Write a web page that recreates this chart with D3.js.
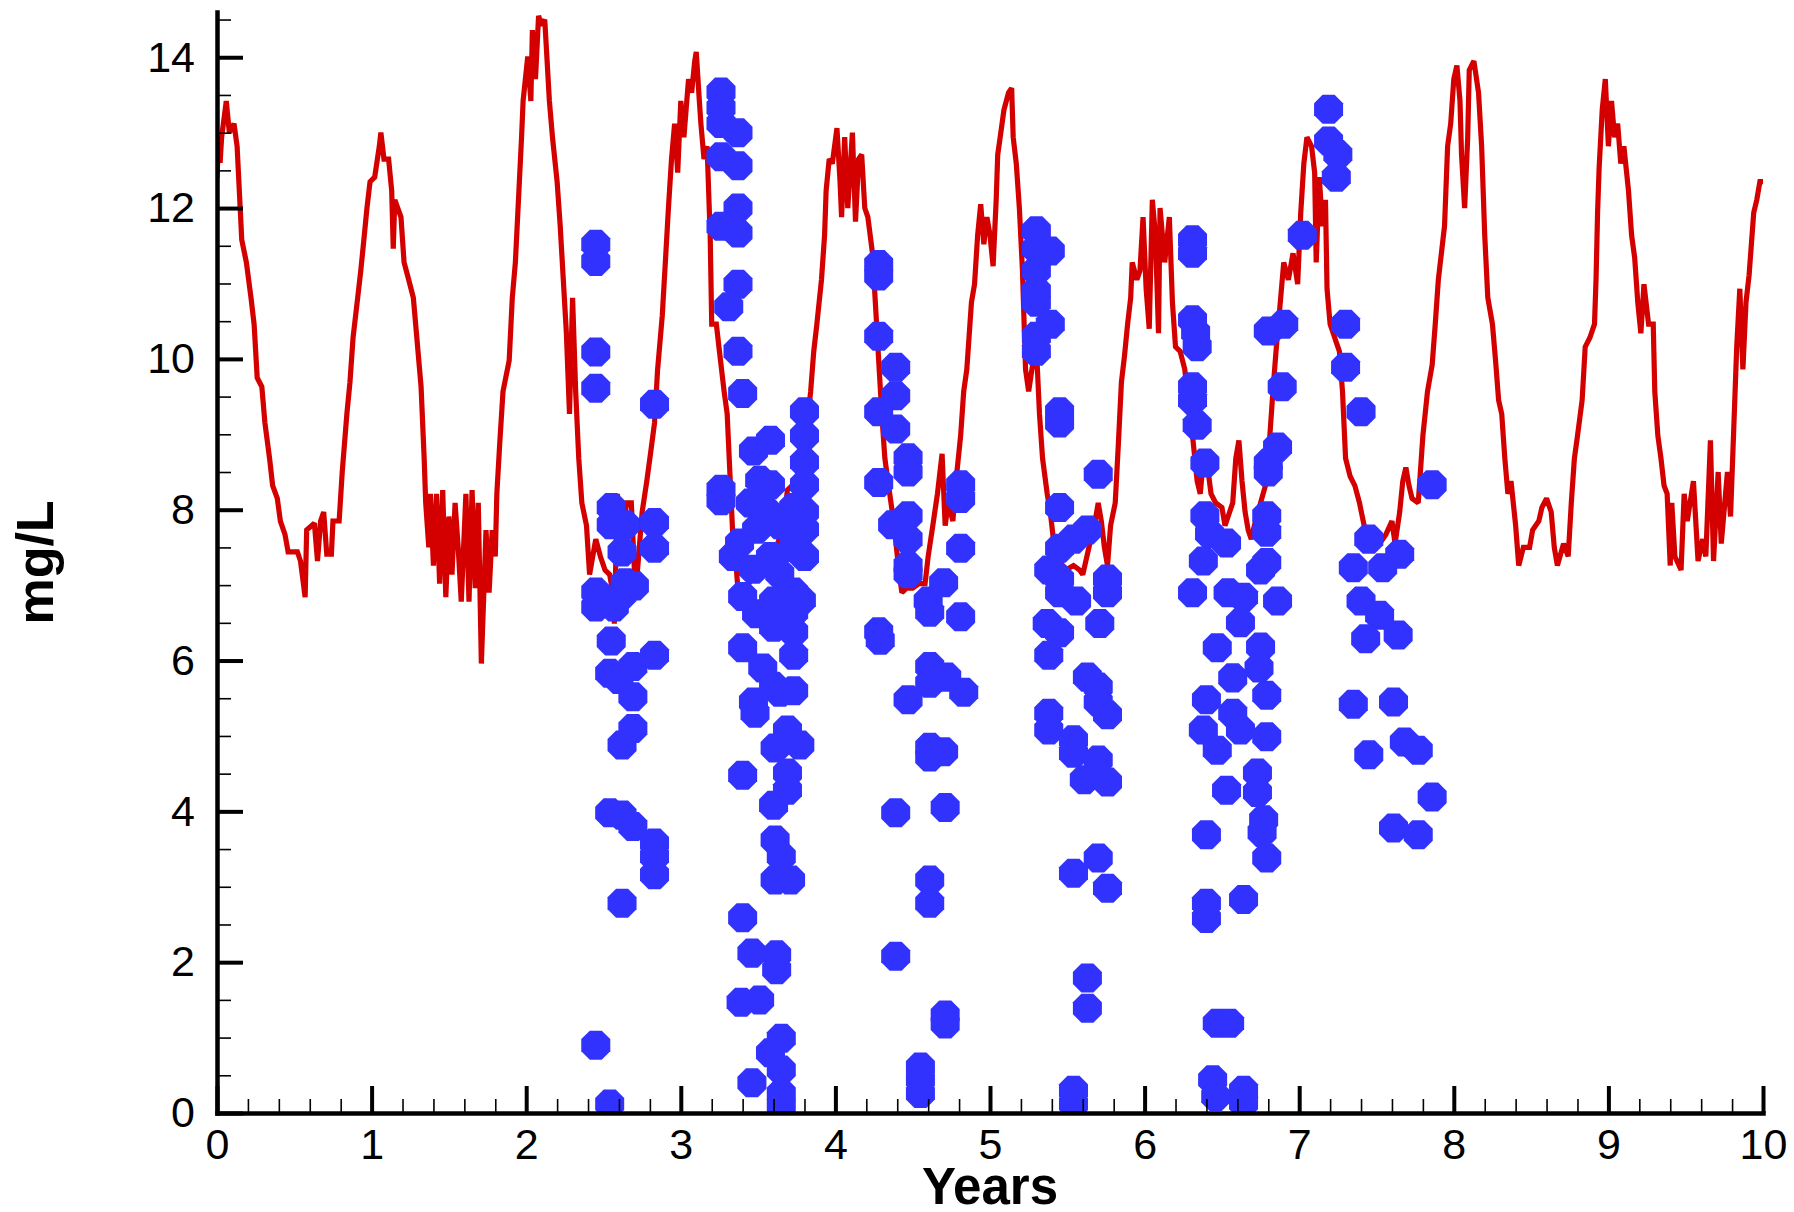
<!DOCTYPE html>
<html><head><meta charset="utf-8">
<script src="https://cdn.jsdelivr.net/npm/d3@7"></script>
<style>body{margin:0;background:#fff} svg{display:block}</style>
</head><body>
<svg id="chart" width="1794" height="1212"></svg>
<script>
// ---- data ----
const lineYears = [0.00,0.01,0.02,0.03,0.06,0.08,0.11,0.13,0.15,0.16,0.19,0.22,0.24,0.26,0.29,0.31,0.34,0.36,0.39,0.41,0.44,0.46,0.52,0.54,0.57,0.58,0.63,0.65,0.67,0.69,0.71,0.74,0.75,0.79,0.81,0.84,0.86,0.88,0.91,0.93,0.95,0.97,0.99,1.02,1.05,1.06,1.08,1.11,1.13,1.14,1.15,1.19,1.21,1.24,1.27,1.29,1.32,1.34,1.35,1.37,1.38,1.40,1.42,1.44,1.46,1.48,1.50,1.52,1.54,1.56,1.58,1.61,1.63,1.65,1.67,1.69,1.71,1.74,1.76,1.78,1.80,1.81,1.83,1.85,1.89,1.91,1.93,1.95,1.97,1.98,2.01,2.03,2.04,2.06,2.08,2.10,2.12,
2.15,2.17,2.20,2.22,2.24,2.26,2.28,2.30,2.32,2.34,2.36,2.39,2.41,2.45,2.48,2.51,2.54,2.56,2.57,2.59,2.61,2.65,2.68,2.70,2.72,2.75,2.78,2.80,2.83,2.85,2.88,2.90,2.92,2.94,2.96,2.98,3.00,3.02,3.05,3.07,3.09,3.10,3.12,3.13,3.15,3.17,3.19,3.20,3.23,3.25,3.28,3.30,3.32,3.34,3.36,3.38,3.40,3.44,3.49,3.53,3.58,3.62,3.66,3.69,3.75,3.81,3.84,3.86,3.88,3.91,3.93,3.94,3.96,3.98,4.01,4.03,4.04,4.06,4.08,4.11,4.13,4.15,4.17,4.19,4.21,4.24,4.26,4.28,
4.30,4.32,4.34,4.38,4.41,4.43,4.46,4.50,4.54,4.58,4.60,4.63,4.66,4.69,4.71,4.73,4.76,4.78,4.81,4.83,4.85,4.88,4.90,4.92,4.94,4.96,4.98,5.00,5.02,5.04,5.05,5.07,5.09,5.12,5.14,5.15,5.17,5.19,5.21,5.23,5.25,5.28,5.30,5.32,5.34,5.37,5.39,5.41,5.45,5.49,5.54,5.58,5.60,5.64,5.68,5.70,5.72,5.74,5.76,5.78,5.81,5.83,5.85,5.87,5.89,5.91,5.92,5.95,5.97,5.99,6.01,6.03,6.05,6.07,6.09,6.10,6.13,6.16,6.18,6.20,6.23,6.26,
6.29,6.31,6.34,6.36,6.38,6.40,6.43,6.46,6.50,6.52,6.55,6.57,6.59,6.61,6.63,6.65,6.67,6.69,6.71,6.75,6.79,6.81,6.83,6.85,6.87,6.90,6.93,6.96,6.99,7.01,7.03,7.05,7.08,7.10,7.11,7.13,7.15,7.17,7.18,7.20,7.22,7.24,7.26,7.28,7.30,7.33,7.36,7.39,7.42,7.46,7.52,7.56,7.60,7.62,7.65,7.67,7.69,7.71,7.73,7.77,7.80,7.83,7.86,7.88,7.90,7.94,7.96,7.98,8.00,8.02,8.04,8.05,8.07,8.09,8.10,8.13,8.16,8.18,8.20,8.22,8.25,8.27,8.29,8.31,8.33,
8.35,8.37,8.40,8.42,8.45,8.49,8.51,8.55,8.57,8.60,8.63,8.65,8.67,8.71,8.74,8.76,8.78,8.80,8.83,8.85,8.88,8.91,8.92,8.93,8.94,8.96,8.98,9.00,9.02,9.04,9.06,9.08,9.10,9.13,9.15,9.17,9.19,9.21,9.23,9.26,9.29,9.30,9.32,9.34,9.36,9.38,9.40,9.41,9.43,9.47,9.49,9.51,9.55,9.58,9.61,9.63,9.66,9.68,9.71,9.73,9.77,9.79,9.81,9.83,9.85,9.87,9.89,9.91,9.94,9.96,9.98,10.00];
const lineValues = [12.4,12.9,12.6,12.94,13.42,13.0,13.12,12.82,12.0,11.58,11.28,10.81,10.46,9.75,9.63,9.15,8.68,8.32,8.15,7.85,7.67,7.44,7.44,7.32,6.84,7.73,7.82,7.32,7.85,7.97,7.41,7.41,7.85,7.85,8.5,9.27,9.69,10.28,10.81,11.17,11.58,12.0,12.35,12.41,12.82,13.0,12.65,12.65,12.23,11.46,12.11,11.88,11.28,11.05,10.81,10.34,9.63,8.68,8.09,7.5,8.21,7.26,8.21,7.02,8.26,6.84,7.91,7.14,8.09,7.5,6.78,8.21,6.78,8.26,6.96,8.09,5.96,7.73,6.9,7.73,7.38,8.21,8.92,9.57,9.98,10.81,11.28,12.11,12.94,13.42,14.01,13.42,14.36,13.71,14.55,14.42,14.5,
13.42,12.94,12.35,11.76,11.05,10.34,9.27,10.81,9.57,8.68,8.09,7.79,7.14,7.61,7.38,7.2,7.14,6.9,6.49,8.21,7.5,8.09,8.09,7.2,7.2,7.97,8.38,8.68,9.15,9.86,10.57,11.28,12.0,12.65,13.12,12.47,13.42,12.94,13.71,13.53,13.95,14.07,13.42,13.12,12.65,12.82,11.64,10.46,10.46,10.1,9.57,9.27,8.38,7.5,7.2,6.67,6.9,7.02,7.2,7.2,7.5,7.5,7.79,8.26,8.38,8.98,9.57,10.1,10.46,11.05,11.64,12.23,12.65,12.59,13.06,12.35,11.88,12.94,12.0,13.0,11.82,12.65,12.71,12.0,11.88,11.4,10.69,9.98,
9.27,8.68,8.38,7.79,7.2,6.9,6.96,6.96,7.02,7.02,7.38,7.79,8.21,8.74,7.79,8.09,7.85,8.38,8.98,9.57,9.86,10.75,10.99,11.64,12.05,11.52,11.88,11.64,11.23,12.11,12.71,13.0,13.3,13.53,13.59,12.94,12.59,12.0,11.17,9.86,9.57,9.98,10.16,9.27,8.68,8.21,7.97,7.61,7.32,7.2,7.26,7.2,7.14,7.5,7.85,8.09,7.85,7.5,7.26,7.79,8.09,8.86,9.69,10.04,10.46,10.81,11.28,11.05,11.17,11.88,10.93,10.4,12.11,11.64,10.34,12.0,11.28,11.88,10.75,10.16,10.1,9.86,
9.27,8.98,8.38,8.21,8.68,8.68,8.21,8.09,8.03,7.79,7.97,8.09,8.68,8.92,8.38,7.97,7.73,7.61,7.79,8.09,8.38,8.98,9.57,10.1,10.57,11.28,11.05,11.4,10.99,11.94,12.59,12.94,12.82,12.47,11.28,12.41,11.76,12.11,10.93,10.46,10.34,10.22,10.1,9.57,8.68,8.44,8.32,8.09,7.79,7.61,7.55,7.67,7.85,7.55,7.97,8.38,8.56,8.32,8.15,8.09,8.98,9.57,9.92,10.46,11.05,11.76,12.82,13.12,13.71,13.89,13.42,12.71,12.0,12.94,13.83,13.95,13.53,12.82,11.64,10.81,10.46,9.98,9.45,9.27,8.68,
8.21,8.38,7.79,7.26,7.5,7.5,7.73,7.85,8.03,8.15,7.97,7.5,7.26,7.55,7.38,8.09,8.68,8.98,9.45,10.16,10.28,10.46,11.05,11.94,12.53,13.3,13.71,12.82,13.42,12.94,13.12,12.59,12.82,12.23,11.64,11.34,10.75,10.34,10.99,10.46,10.46,9.57,8.98,8.68,8.32,8.21,7.26,8.09,7.38,7.2,8.21,7.85,8.38,7.32,7.61,7.38,8.92,7.32,8.5,7.55,8.5,7.91,9.03,10.16,10.93,9.86,10.75,11.11,11.94,12.11,12.35,12.35];

const obsYears = [2.45,2.45,2.45,2.45,2.45,2.45,2.45,2.54,2.55,2.55,2.64,2.62,2.64,2.70,2.62,2.57,2.55,2.54,2.60,2.69,2.69,2.69,2.62,2.54,2.62,2.69,2.83,2.83,2.83,2.62,2.83,2.83,2.83,2.83,
3.26,3.26,3.26,3.37,3.26,3.37,3.37,3.26,3.37,3.37,3.31,3.37,3.40,
3.80,3.80,3.58,3.47,3.80,3.26,3.26,3.51,3.58,3.80,3.45,3.56,3.73,3.80,3.64,3.49,3.80,3.38,3.73,3.34,3.58,3.80,3.47,3.64,3.40,3.73,3.60,3.49,3.73,3.60,3.73,3.40,3.73,3.53,3.60,3.73,3.47,3.78,3.64,3.48,3.69,3.77,3.61,3.40,3.69,3.69,3.60,3.61,3.65,3.61,3.71,3.40,3.46,3.62,3.62,3.39,3.51,3.65,3.58,3.65,3.46,3.65,3.65,
4.28,4.28,4.28,4.39,4.39,4.28,4.39,4.47,4.47,4.28,4.37,4.47,4.47,4.47,4.47,4.81,4.81,4.81,4.60,4.70,4.81,4.61,4.28,4.29,4.61,4.72,4.61,4.47,4.83,4.61,4.70,4.61,4.39,4.71,4.61,4.61,4.39,4.71,4.71,4.55,4.55,4.55,
5.30,5.30,5.39,5.30,5.30,5.30,5.39,5.30,5.30,5.45,5.45,5.70,5.45,5.63,5.54,5.45,5.38,5.76,5.76,5.45,5.45,5.56,5.71,5.37,5.45,5.38,5.63,5.70,5.70,5.76,5.38,5.38,5.54,5.54,5.70,5.61,5.76,5.70,5.54,5.76,5.63,5.63,5.54,5.54,
6.31,6.31,6.31,6.33,6.34,6.31,6.31,6.34,6.39,6.39,6.42,6.53,6.38,6.31,6.54,6.79,6.79,6.86,6.80,6.80,6.89,6.80,6.90,6.64,6.75,6.86,6.79,6.62,6.47,6.75,6.74,6.57,6.79,6.40,6.57,6.38,6.62,6.79,6.47,6.73,6.53,6.73,6.77,6.76,6.79,6.40,6.64,6.40,6.40,6.47,6.55,6.44,6.46,6.64,6.64,
7.02,7.19,7.19,7.25,7.24,7.30,7.30,7.40,7.86,7.45,7.35,7.54,7.65,7.40,7.52,7.64,7.43,7.35,7.61,7.45,7.68,7.77,7.86,7.61,7.77];
const obsValues = [11.52,11.29,10.09,9.61,6.91,6.71,0.90,0.12,8.03,7.80,7.80,7.44,7.03,6.99,6.87,6.71,6.26,5.83,5.75,5.92,5.52,5.10,4.88,3.98,3.95,3.80,3.58,3.40,3.16,2.78,9.40,7.83,7.49,6.07,
13.54,13.33,13.12,13.00,12.68,12.56,12.00,11.76,11.67,10.99,10.69,10.10,9.54,
9.30,8.98,8.92,8.78,8.63,8.27,8.12,8.39,8.33,8.33,8.09,7.97,8.03,7.97,7.80,7.74,7.74,7.56,7.50,7.38,7.38,7.38,7.21,7.15,6.85,6.91,6.79,6.62,6.64,6.44,6.38,6.17,6.07,5.90,5.66,5.60,5.45,6.80,5.58,5.30,5.08,4.88,4.84,4.48,4.51,4.28,4.08,3.62,3.40,3.09,3.09,2.59,2.12,2.10,1.90,1.47,1.50,0.99,0.80,0.57,0.40,0.26,0.10,
11.25,11.10,10.30,9.89,9.51,9.30,9.07,8.69,8.50,8.36,7.80,7.92,7.61,7.26,7.15,8.33,8.15,7.49,6.79,7.03,6.58,6.64,6.38,6.27,5.92,5.78,5.70,5.48,5.58,4.72,4.79,4.85,3.98,4.05,3.09,2.78,2.08,1.30,1.18,0.61,0.44,0.26,
11.70,11.46,11.43,11.17,10.90,10.75,10.46,10.30,10.10,9.30,9.15,8.47,8.03,7.73,7.61,7.49,7.20,7.08,6.90,7.08,6.90,6.79,6.49,6.49,6.37,6.07,5.78,5.65,5.45,5.28,5.30,5.08,4.95,4.77,4.68,4.42,4.39,3.38,3.18,2.98,1.79,1.39,0.30,0.12,
11.58,11.40,10.52,10.35,10.16,9.63,9.45,9.12,8.62,7.92,7.68,7.56,7.32,6.90,6.90,7.92,7.70,8.83,8.62,8.50,9.63,10.37,10.46,6.84,7.20,6.79,7.30,6.50,6.17,6.18,5.90,5.77,5.54,5.48,5.30,5.08,5.08,4.99,4.81,4.51,4.28,4.25,3.89,3.72,3.38,3.69,2.83,2.78,2.58,1.19,1.19,0.44,0.22,0.30,0.13,
11.64,13.31,12.89,12.71,12.41,10.46,9.89,9.30,8.33,7.61,7.23,7.23,7.41,6.79,6.60,6.34,6.29,5.42,5.45,4.75,4.92,4.81,4.19,3.78,3.69];

const xTicks = [0,1,2,3,4,5,6,7,8,9,10];
const yTicks = [0,2,4,6,8,10,12,14];
const xTitle = "Years";
const yTitle = "mg/L";

// ---- drawing ----
const svg = d3.select("#chart");
const FONT = '"Liberation Sans", Arial, Helvetica, sans-serif';
const x = d3.scaleLinear().domain([0, 10]).range([217, 1763]);
const y = d3.scaleLinear().domain([0, 14.6]).range([1113, 12]);

const xMinor = d3.range(0, 50).map(i => i / 5).filter(v => Math.abs(v - Math.round(v)) > 1e-6);
const yMinor = d3.range(0, 30).map(i => i / 2).filter(v => v <= 14.6 && Math.abs(v / 2 - Math.round(v / 2)) > 1e-6);

svg.append("defs").append("clipPath").attr("id", "plot")
  .append("rect").attr("x", x(0)).attr("y", 0).attr("width", x(10) - x(0)).attr("height", y(0));

const plot = svg.append("g").attr("clip-path", "url(#plot)");

const pts = lineYears.map((t, i) => [t, lineValues[i]]);
plot.append("path").datum(pts)
  .attr("fill", "none").attr("stroke", "#d40000").attr("stroke-width", 5.2)
  .attr("stroke-linejoin", "miter").attr("stroke-miterlimit", 2)
  .attr("d", d3.line().x(d => x(d[0])).y(d => y(d[1])));

const octagon = {
  draw(ctx, size) {
    const r = Math.sqrt(size);
    for (let i = 0; i < 8; i++) {
      const a = Math.PI / 8 + i * Math.PI / 4;
      const px = r * Math.cos(a), py = r * Math.sin(a);
      if (i === 0) ctx.moveTo(px, py); else ctx.lineTo(px, py);
    }
    ctx.closePath();
  }
};
const sym = d3.symbol().type(octagon).size(15.7 * 15.7);
plot.selectAll("path.obs").data(obsYears.map((t, i) => [t, obsValues[i]]))
  .join("path").attr("class", "obs")
  .attr("transform", d => `translate(${x(d[0])},${y(d[1])})`)
  .attr("d", sym).attr("fill", "#3232ff");

// axes
function style(g, major) {
  g.attr("font-family", FONT).attr("font-size", 43);
  g.selectAll(".tick line").attr("stroke", "#000").attr("stroke-width", major ? 4 : 1.6);
  g.selectAll(".tick text").attr("fill", "#000");
}
const yMinorG = svg.append("g").attr("transform", `translate(${x(0)},0)`)
  .call(d3.axisLeft(y).tickValues(yMinor).tickSizeInner(-14).tickSizeOuter(0).tickFormat(""));
yMinorG.select(".domain").remove(); style(yMinorG, false);
const xMinorG = svg.append("g").attr("transform", `translate(0,${y(0)})`)
  .call(d3.axisBottom(x).tickValues(xMinor).tickSizeInner(-14).tickSizeOuter(0).tickFormat(""));
xMinorG.select(".domain").remove(); style(xMinorG, false);

const yAxisG = svg.append("g").attr("transform", `translate(${x(0)},0)`)
  .call(d3.axisLeft(y).tickValues(yTicks).tickSizeInner(-26).tickSizeOuter(0).tickPadding(22).tickFormat(d3.format("d")));
style(yAxisG, true);
yAxisG.select(".domain").attr("stroke", "#000").attr("stroke-width", 4.5).attr("stroke-linecap", "square");

const xAxisG = svg.append("g").attr("transform", `translate(0,${y(0)})`)
  .call(d3.axisBottom(x).tickValues(xTicks).tickSizeInner(-27).tickSizeOuter(0).tickPadding(15).tickFormat(d3.format("d")));
style(xAxisG, true);
xAxisG.select(".domain").attr("stroke", "#000").attr("stroke-width", 4.5).attr("stroke-linecap", "square");

svg.append("text").attr("x", (x(0) + x(10)) / 2).attr("y", 1204)
  .attr("text-anchor", "middle").attr("font-family", FONT).attr("font-weight", "bold")
  .attr("font-size", 51).text(xTitle);
svg.append("text").attr("transform", `translate(53,${(y(0) + y(14.6)) / 2}) rotate(-90)`)
  .attr("text-anchor", "middle").attr("font-family", FONT).attr("font-weight", "bold")
  .attr("font-size", 52).text(yTitle);
</script>
</body></html>
